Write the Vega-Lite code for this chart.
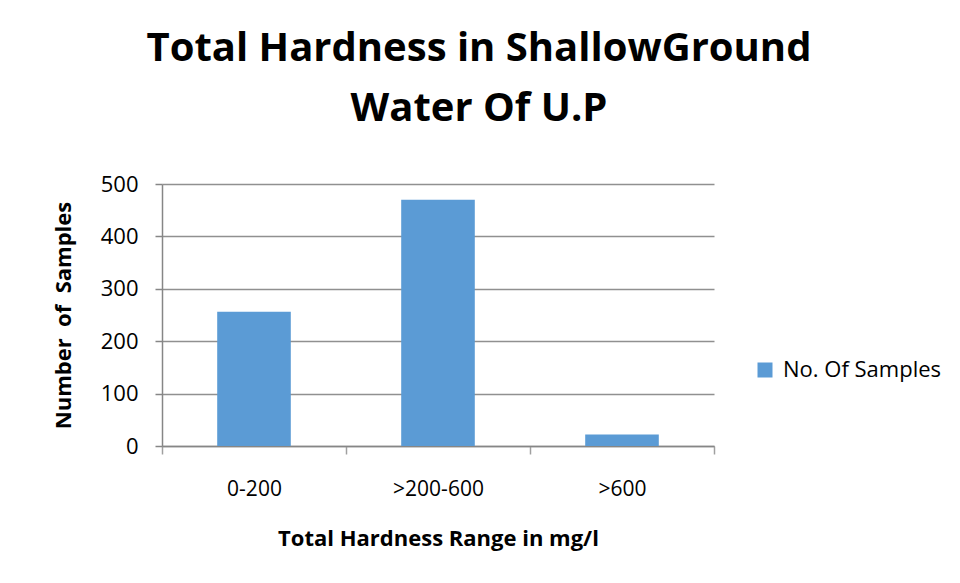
{
  "$schema": "https://vega.github.io/schema/vega-lite/v6.json",
  "width": 552,
  "height": 262,
  "autosize": "none",
  "padding": {"left": 162, "top": 184, "right": 246, "bottom": 137},
  "background": "white",
  "title": {
    "text": ["Total Hardness in ShallowGround", "Water Of U.P"],
    "font": "Open Sans",
    "fontSize": 40,
    "fontWeight": "bold",
    "color": "black",
    "anchor": "middle",
    "dx": 41,
    "lineHeight": 60,
    "offset": 44
  },
  "data": {
    "values": [
      {"range": "0-200", "samples": 256, "series": "No. Of Samples"},
      {"range": ">200-600", "samples": 470, "series": "No. Of Samples"},
      {"range": ">600", "samples": 22, "series": "No. Of Samples"}
    ]
  },
  "mark": {"type": "bar", "width": {"band": 0.4}},
  "encoding": {
    "x": {
      "field": "range",
      "type": "nominal",
      "sort": null,
      "scale": {"paddingInner": 0, "paddingOuter": 0},
      "axis": {
        "title": "Total Hardness Range in mg/l",
        "titleFont": "Open Sans",
        "titleFontSize": 22,
        "titleFontWeight": "bold",
        "titleColor": "black",
        "titlePadding": 29,
        "labelAngle": 0,
        "labelFont": "Open Sans",
        "labelFontSize": 21,
        "labelColor": "black",
        "labelPadding": 24,
        "tickBand": "extent",
        "tickSize": 8,
        "tickColor": "#A0A0A0",
        "tickWidth": 1.5,
        "domainColor": "#868686",
        "domainWidth": 1.5
      }
    },
    "y": {
      "field": "samples",
      "type": "quantitative",
      "scale": {"domain": [0, 500]},
      "axis": {
        "title": "Number\u00a0 of\u00a0 Samples",
        "titleFont": "Open Sans",
        "titleFontSize": 22,
        "titleFontWeight": "bold",
        "titleColor": "black",
        "titlePadding": 25,
        "values": [0, 100, 200, 300, 400, 500],
        "labelFont": "Open Sans",
        "labelFontSize": 22,
        "labelColor": "black",
        "labelPadding": 17,
        "tickSize": 7,
        "tickColor": "#868686",
        "tickWidth": 1.5,
        "domainColor": "#868686",
        "domainWidth": 1.5,
        "grid": true,
        "gridColor": "#909090",
        "gridWidth": 1.5
      }
    },
    "color": {
      "field": "series",
      "type": "nominal",
      "scale": {"range": ["#5B9BD5"]},
      "legend": {
        "title": null,
        "orient": "none",
        "legendX": 592,
        "legendY": 175,
        "symbolType": "square",
        "symbolSize": 225,
        "symbolStrokeWidth": 0,
        "labelFont": "Open Sans",
        "labelFontSize": 22,
        "labelColor": "black",
        "labelOffset": 7
      }
    }
  },
  "config": {
    "view": {"stroke": null}
  }
}
